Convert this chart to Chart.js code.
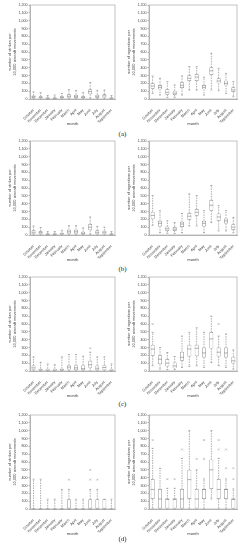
<!DOCTYPE html>
<html lang="en">
<head>
    <meta charset="UTF-8">
    <title>Strikes and ingestions per month</title>
    <script src="https://cdn.jsdelivr.net/npm/chart.js@4.4.1/dist/chart.umd.min.js"></script>
    <style>
        body {
            margin: 0;
            width: 245px;
            height: 550px;
            background: #fff;
            position: relative;
            overflow: hidden;
            font-family: 'DejaVu Sans', sans-serif;
        }

        canvas {
            position: absolute;
        }

        .tag {
            position: absolute;
            width: 245px;
            text-align: center;
            font-family: 'Liberation Serif', serif;
            font-size: 7px;
            color: #222;
        }
    </style>
</head>
<body>

<canvas id="aL" width="120" height="126" style="left:0;top:0"></canvas>
<canvas id="aR" width="125" height="126" style="left:120px;top:0"></canvas>
<div class="tag" style="top:130px">(a)</div>

<canvas id="bL" width="120" height="126" style="left:0;top:136px"></canvas>
<canvas id="bR" width="125" height="126" style="left:120px;top:136px"></canvas>
<div class="tag" style="top:265px">(b)</div>

<canvas id="cL" width="120" height="126" style="left:0;top:272px"></canvas>
<canvas id="cR" width="125" height="126" style="left:120px;top:272px"></canvas>
<div class="tag" style="top:400px">(c)</div>

<canvas id="dL" width="120" height="126" style="left:0;top:410px"></canvas>
<canvas id="dR" width="125" height="126" style="left:120px;top:410px"></canvas>
<div class="tag" style="top:535px">(d)</div>

<script>
    const months = ['October', 'November', 'December', 'January', 'February', 'March',
        'April', 'May', 'June', 'July', 'August', 'September'];
    const yTicks = [0, 100, 200, 300, 400, 500, 600, 700, 800, 900, 1000, 1100, 1200];

    // (a) strikes
    const aStrLo = [0, 0, 0, 0, 0, 0, 0, 0, 10, 0, 0, 0];
    const aStrQ1 = [12, 8, 3, 3, 8, 15, 12, 8, 60, 12, 15, 3];
    const aStrMed = [30, 20, 10, 10, 20, 35, 35, 20, 95, 35, 40, 10];
    const aStrQ3 = [45, 35, 20, 20, 35, 60, 55, 35, 125, 55, 60, 20];
    const aStrHi = [90, 80, 45, 50, 70, 120, 110, 80, 210, 110, 115, 45];
    const aStrOut = [];
    // (a) ingestions
    const aIngLo = [72, 51, 21, 21, 51, 115, 115, 51, 115, 106, 72, 30];
    const aIngQ1 = [132, 123, 55, 51, 140, 230, 230, 123, 306, 200, 174, 89];
    const aIngMed = [165, 150, 85, 75, 175, 265, 280, 150, 360, 230, 200, 115];
    const aIngQ3 = [200, 179, 123, 106, 213, 302, 319, 179, 404, 264, 234, 149];
    const aIngHi = [293, 264, 221, 179, 294, 413, 413, 277, 583, 391, 328, 221];
    const aIngOut = [];

    // (b) strikes
    const bStrLo = [0, 0, 0, 0, 0, 0, 0, 0, 10, 0, 0, 0];
    const bStrQ1 = [15, 10, 3, 3, 5, 15, 15, 5, 60, 10, 10, 3];
    const bStrMed = [35, 30, 10, 10, 15, 40, 40, 20, 100, 35, 35, 10];
    const bStrQ3 = [60, 50, 20, 20, 30, 65, 65, 40, 140, 60, 55, 20];
    const bStrHi = [115, 95, 45, 45, 60, 120, 120, 90, 230, 110, 100, 45];
    const bStrOut = [];
    // (b) ingestions
    const bIngLo = [125, 30, 22, 17, 30, 116, 116, 30, 159, 52, 52, 30];
    const bIngQ1 = [202, 108, 52, 52, 103, 194, 245, 108, 310, 181, 146, 65];
    const bIngMed = [250, 150, 80, 75, 140, 240, 290, 150, 380, 230, 180, 100];
    const bIngQ3 = [297, 181, 108, 103, 168, 280, 331, 181, 447, 275, 211, 138];
    const bIngHi = [503, 310, 181, 159, 275, 525, 503, 310, 632, 374, 310, 224];
    const bIngOut = [];

    // (c) strikes
    const cStrLo = [0, 0, 0, 0, 0, 0, 0, 0, 0, 0, 0, 0];
    const cStrQ1 = [15, 5, 5, 5, 5, 20, 10, 10, 40, 10, 10, 5];
    const cStrMed = [40, 15, 10, 10, 15, 50, 40, 30, 80, 35, 45, 10];
    const cStrQ3 = [70, 30, 30, 30, 30, 75, 75, 75, 130, 70, 75, 30];
    const cStrHi = [180, 110, 90, 80, 180, 210, 210, 190, 240, 180, 180, 90];
    const cStrOut = [{x: 'June', y: 290}];
    // (c) ingestions
    const cIngLo = [67, 25, 17, 17, 46, 59, 67, 46, 109, 67, 46, 25];
    const cIngQ1 = [194, 88, 59, 34, 130, 185, 189, 173, 286, 185, 173, 97];
    const cIngMed = [280, 150, 100, 65, 175, 280, 290, 230, 410, 240, 230, 130];
    const cIngQ3 = [333, 202, 152, 109, 244, 333, 333, 299, 497, 299, 299, 181];
    const cIngHi = [493, 299, 236, 185, 446, 493, 552, 493, 700, 446, 472, 270];
    const cIngOut = [{x: 'October', y: 598}, {x: 'July', y: 598}];

    // (d) strikes
    const dStrLo = [0, 0, 0, 0, 0, 0, 0, 0, 0, 0, 0, 0];
    const dStrQ1 = [0, 0, 0, 0, 0, 0, 0, 0, 0, 0, 0, 0];
    const dStrMed = [0, 0, 0, 0, 0, 0, 0, 0, 0, 0, 0, 0];
    const dStrQ3 = [0, 0, 0, 0, 0, 125, 0, 0, 125, 125, 125, 0];
    const dStrHi = [380, 380, 125, 125, 250, 250, 125, 125, 250, 250, 125, 125];
    const dStrOut = [{x: 'March', y: 375}, {x: 'June', y: 375}, {x: 'June', y: 500}, {x: 'July', y: 375}];
    // (d) ingestions
    const dIngLo = [0, 0, 0, 0, 0, 0, 0, 0, 128, 0, 0, 0];
    const dIngQ1 = [128, 0, 0, 0, 0, 128, 0, 128, 255, 128, 128, 0];
    const dIngMed = [250, 128, 128, 128, 128, 375, 128, 250, 500, 250, 250, 128];
    const dIngQ3 = [383, 255, 128, 128, 255, 500, 255, 255, 630, 383, 255, 128];
    const dIngHi = [774, 519, 264, 264, 647, 1000, 500, 383, 1000, 647, 383, 255];
    const dIngOut = [{x: 'October', y: 880}, {x: 'December', y: 380}, {x: 'January', y: 380},
        {x: 'February', y: 760}, {x: 'April', y: 640}, {x: 'May', y: 640}, {x: 'May', y: 880},
        {x: 'July', y: 760}, {x: 'July', y: 880}, {x: 'August', y: 520}, {x: 'August', y: 760},
        {x: 'September', y: 380}, {x: 'September', y: 520}];

    const strikesTitle = ['number of strikes per', '10,000 aircraft movements'];
    const ingestTitle = ['number of ingestions per', '10,000 aircraft movements'];

    const lineGrey = '#8c8c8c';

    // whiskers, caps, medians and frame, all placed through the chart scales
    const boxPlugin = {
        id: 'boxWhisker',
        afterDatasetsDraw(chart) {
            const st = chart.options.plugins.boxWhisker;
            const xs = chart.scales.x, ys = chart.scales.y;
            const bars = chart.getDatasetMeta(0).data;
            const c = chart.ctx;
            c.save();
            c.strokeStyle = lineGrey;
            c.lineWidth = 0.7;
            st.med.forEach((m, i) => {
                const x = xs.getPixelForValue(i);
                const half = bars[i].width / 2;
                const yLo = ys.getPixelForValue(st.lo[i]);
                const yQ1 = ys.getPixelForValue(st.q1[i]);
                const yQ3 = ys.getPixelForValue(st.q3[i]);
                const yHi = ys.getPixelForValue(st.hi[i]);
                c.setLineDash([1.5, 1]);
                c.beginPath();
                c.moveTo(x, yQ3);
                c.lineTo(x, yHi);
                c.moveTo(x, yQ1);
                c.lineTo(x, yLo);
                c.stroke();
                c.setLineDash([]);
                c.beginPath();
                c.moveTo(x - half / 2, yHi);
                c.lineTo(x + half / 2, yHi);
                c.moveTo(x - half / 2, yLo);
                c.lineTo(x + half / 2, yLo);
                const yM = ys.getPixelForValue(m);
                c.moveTo(x - half, yM);
                c.lineTo(x + half, yM);
                c.stroke();
            });
            const a = chart.chartArea;
            c.strokeStyle = '#b5b5b5';
            c.lineWidth = 0.8;
            c.strokeRect(a.left, a.top, a.right - a.left, a.bottom - a.top);
            c.restore();
        }
    };

    function boxChart(id, title, lo, q1, med, q3, hi, out, padLeft, padRight) {
        new Chart(document.getElementById(id), {
            type: 'bar',
            data: {
                labels: months,
                datasets: [{
                    data: q1.map((v, i) => [v, q3[i]]),
                    backgroundColor: '#ffffff',
                    borderColor: lineGrey,
                    borderWidth: 0.7,
                    borderSkipped: false,
                    barPercentage: 0.6,
                    categoryPercentage: 0.9
                }, {
                    type: 'scatter',
                    data: out,
                    pointStyle: 'crossRot',
                    radius: 1.2,
                    borderWidth: 0.6,
                    borderColor: '#a0a0a0'
                }]
            },
            options: {
                responsive: false,
                animation: false,
                events: [],
                layout: {padding: {left: padLeft, right: padRight, top: 5, bottom: 0}},
                plugins: {
                    legend: {display: false},
                    tooltip: {enabled: false},
                    boxWhisker: {lo, q1, med, q3, hi}
                },
                scales: {
                    x: {
                        afterFit: (s) => { s.height = 27; },
                        grid: {display: false},
                        border: {color: '#b5b5b5'},
                        ticks: {
                            autoSkip: false, maxRotation: 45, minRotation: 45, padding: 1,
                            color: '#444', font: {size: 3.8}
                        },
                        title: {display: true, text: 'month', color: '#444', font: {size: 4.2}, padding: 0}
                    },
                    y: {
                        min: 0,
                        max: 1200,
                        afterFit: (s) => { s.width = 22; },
                        afterBuildTicks: (s) => { s.ticks = yTicks.map(v => ({value: v})); },
                        grid: {display: true, drawOnChartArea: false, tickLength: 1.5, color: '#b5b5b5'},
                        border: {color: '#b5b5b5'},
                        ticks: {
                            padding: 1, color: '#444', font: {size: 3.6},
                            callback: (v) => v.toLocaleString('en-US')
                        },
                        title: {
                            display: true, text: title, color: '#444',
                            font: {size: 4, lineHeight: 1.1}, padding: 0
                        }
                    }
                }
            },
            plugins: [boxPlugin]
        });
    }

    boxChart('aL', strikesTitle, aStrLo, aStrQ1, aStrMed, aStrQ3, aStrHi, aStrOut, 8, 5);
    boxChart('aR', ingestTitle, aIngLo, aIngQ1, aIngMed, aIngQ3, aIngHi, aIngOut, 7, 8);
    boxChart('bL', strikesTitle, bStrLo, bStrQ1, bStrMed, bStrQ3, bStrHi, bStrOut, 8, 5);
    boxChart('bR', ingestTitle, bIngLo, bIngQ1, bIngMed, bIngQ3, bIngHi, bIngOut, 7, 8);
    boxChart('cL', strikesTitle, cStrLo, cStrQ1, cStrMed, cStrQ3, cStrHi, cStrOut, 8, 5);
    boxChart('cR', ingestTitle, cIngLo, cIngQ1, cIngMed, cIngQ3, cIngHi, cIngOut, 7, 8);
    boxChart('dL', strikesTitle, dStrLo, dStrQ1, dStrMed, dStrQ3, dStrHi, dStrOut, 8, 5);
    boxChart('dR', ingestTitle, dIngLo, dIngQ1, dIngMed, dIngQ3, dIngHi, dIngOut, 7, 8);
</script>
</body>
</html>
